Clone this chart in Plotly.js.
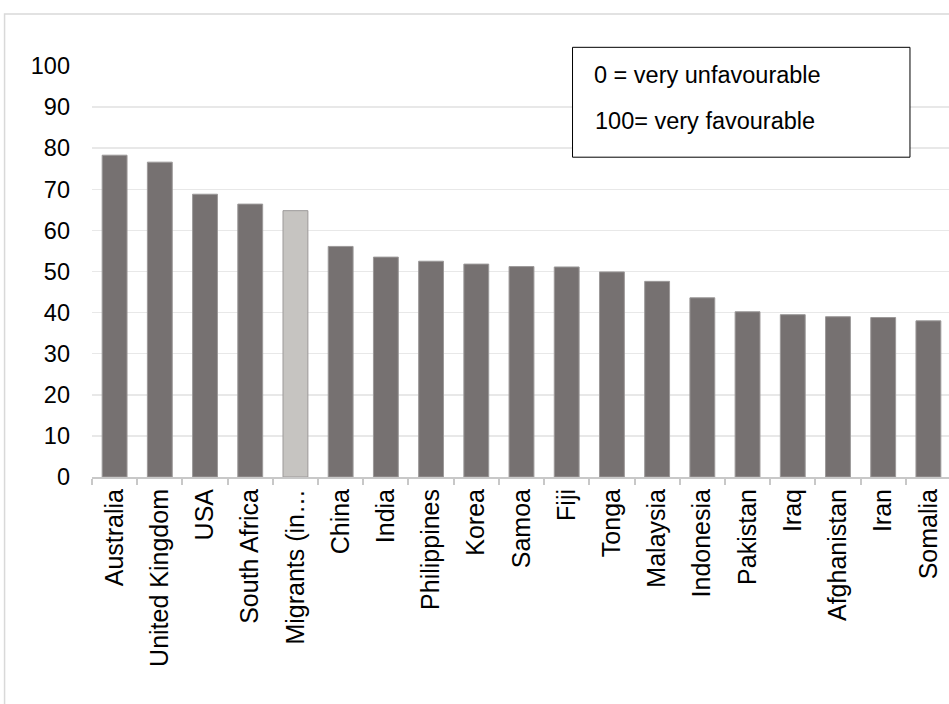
<!DOCTYPE html>
<html>
<head>
<meta charset="utf-8">
<script src="https://cdn.plot.ly/plotly-3.0.1.min.js"></script>
<style>
  html, body { margin: 0; padding: 0; background: #ffffff; overflow: hidden; }
  #chart { width: 949px; height: 704px; }
</style>
</head>
<body>
<div id="chart"></div>
<script>
// Favourability ratings (0 = very unfavourable, 100 = very favourable)
const categories = [
  "Australia", "United Kingdom", "USA", "South Africa", "Migrants (in\u2026",
  "China", "India", "Philippines", "Korea", "Samoa", "Fiji", "Tonga",
  "Malaysia", "Indonesia", "Pakistan", "Iraq", "Afghanistan", "Iran", "Somalia"
];
const ratings = [
  78.3, 76.6, 68.8, 66.4, 64.8,
  56.1, 53.5, 52.5, 51.8, 51.2, 51.1, 49.9,
  47.6, 43.6, 40.2, 39.5, 39.0, 38.8, 38.0
];
const highlighted = "Migrants (in\u2026";
const yTicks = [0, 10, 20, 30, 40, 50, 60, 70, 80, 90, 100];
const noteLines = ["0 = very unfavourable", "100= very favourable"];

const W = 949, H = 704;
const plotLeft = 92.4, plotRight = 949, plotTop = 66, plotBottom = 477.5;
const px = x => (x - plotLeft) / (plotRight - plotLeft);
const py = y => (plotBottom - y) / (plotBottom - plotTop);

const barColors = categories.map(c => c === highlighted ? "#c6c4c1" : "#767171");

const trace = {
  type: "bar",
  x: categories,
  y: ratings,
  marker: { color: barColors, line: { color: "#9c9999", width: 1 } },
  hoverinfo: "x+y"
};

const layout = {
  width: W,
  height: H,
  margin: { l: plotLeft, r: W - plotRight, t: plotTop, b: H - plotBottom, pad: 0 },
  paper_bgcolor: "#ffffff",
  plot_bgcolor: "#ffffff",
  showlegend: false,
  bargap: 0.45,
  font: { family: "Liberation Sans, Arial, sans-serif", color: "#000000", size: 23 },
  xaxis: {
    type: "category",
    range: [-0.5, 18.5 - 2 / 45.2],
    tickangle: -90,
    tickfont: { size: 25, color: "#000000" },
    ticks: "outside",
    tickson: "boundaries",
    ticklen: 6,
    tickwidth: 2,
    tickcolor: "#c8c8c8",
    showline: true,
    linecolor: "#c8c8c8",
    linewidth: 2,
    showgrid: false,
    zeroline: false,
    fixedrange: true
  },
  yaxis: {
    range: [0, 100],
    tickvals: yTicks,
    ticktext: yTicks.map(String),
    tickfont: { size: 23.5, color: "#000000" },
    ticks: "",
    ticklabelstandoff: 21,
    showgrid: true,
    gridcolor: "#e8e8e8",
    gridwidth: 1.5,
    zeroline: false,
    showline: false,
    fixedrange: true
  },
  shapes: [
    // outer chart frame
    {
      type: "rect", xref: "paper", yref: "paper", layer: "below",
      x0: px(5), x1: px(990), y0: py(14), y1: py(760),
      line: { color: "#d9d9d9", width: 1.5 }, fillcolor: "rgba(0,0,0,0)"
    },
    // note box
    {
      type: "rect", xref: "paper", yref: "paper",
      x0: px(572.7), x1: px(910), y0: py(47.3), y1: py(157.3),
      line: { color: "#000000", width: 1 }, fillcolor: "#ffffff"
    }
  ],
  annotations: [
    {
      xref: "paper", yref: "paper", x: px(592), y: py(75),
      xanchor: "left", yanchor: "middle", showarrow: false,
      text: noteLines[0], font: { size: 23.5, color: "#000000" }
    },
    {
      xref: "paper", yref: "paper", x: px(593), y: py(121),
      xanchor: "left", yanchor: "middle", showarrow: false,
      text: noteLines[1], font: { size: 23.5, color: "#000000" }
    }
  ]
};

Plotly.newPlot("chart", [trace], layout, { displayModeBar: false, staticPlot: true });
</script>
</body>
</html>
